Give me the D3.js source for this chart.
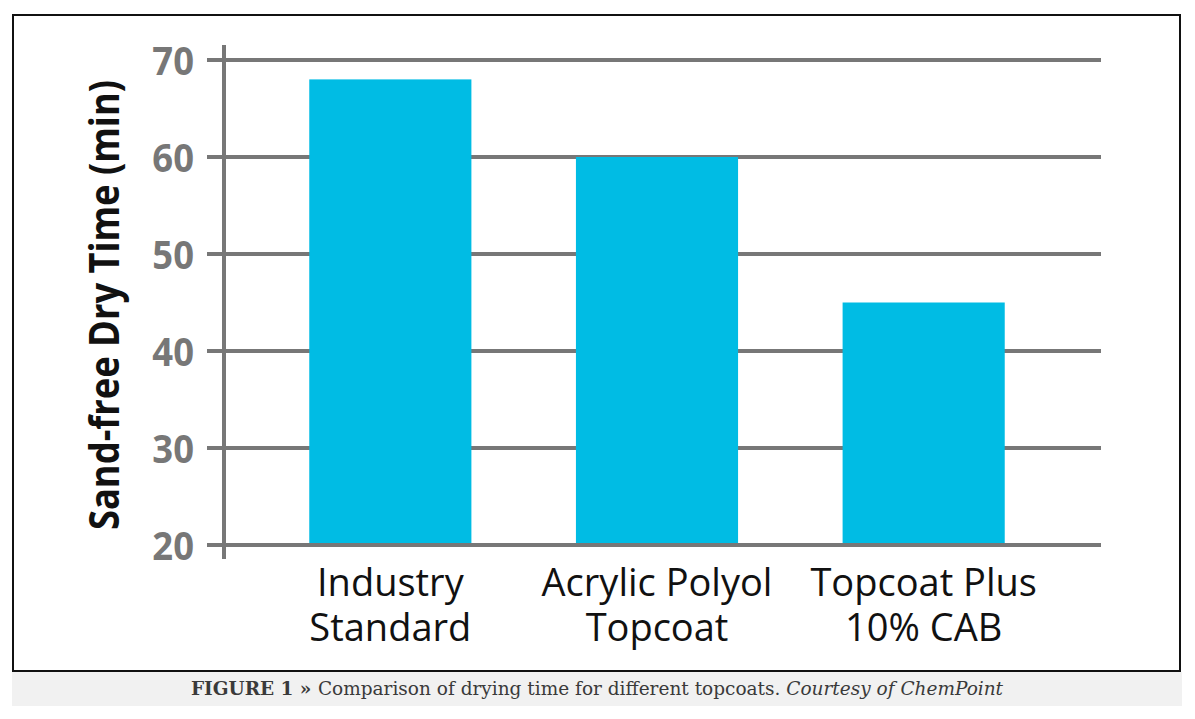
<!DOCTYPE html>
<html>
<head>
<meta charset="utf-8">
<script src="https://cdn.jsdelivr.net/npm/d3@7"></script>
<style>
  html, body { margin: 0; padding: 0; background: #fff; }
  svg { display: block; }
</style>
</head>
<body>
<svg id="chart" width="1195" height="719"></svg>
<script>
const categories = [["Industry", "Standard"], ["Acrylic Polyol", "Topcoat"], ["Topcoat Plus", "10% CAB"]];
const values = [68, 60, 45];
const yTicks = [20, 30, 40, 50, 60, 70];
const yTitle = "Sand-free Dry Time (min)";
const captionParts = [
  { text: "FIGURE 1 » ", weight: "bold", style: "normal" },
  { text: "Comparison of drying time for different topcoats. ", weight: "normal", style: "normal" },
  { text: "Courtesy of ChemPoint", weight: "normal", style: "italic" }
];

const svg = d3.select("#chart");

// caption bar
svg.append("rect").attr("x", 12).attr("y", 672).attr("width", 1170).attr("height", 34).attr("fill", "#f1f1f1");
const cap = svg.append("text").attr("x", 597).attr("y", 695).attr("text-anchor", "middle")
  .attr("font-family", "'DejaVu Serif', 'Liberation Serif', serif").attr("font-size", 18.5).attr("fill", "#3a3a3a");
cap.selectAll("tspan").data(captionParts).join("tspan")
  .attr("font-weight", d => d.weight).attr("font-style", d => d.style).text(d => d.text);

// outer frame
svg.append("rect").attr("x", 13).attr("y", 15).attr("width", 1167).attr("height", 656)
  .attr("fill", "none").attr("stroke", "#111").attr("stroke-width", 2);

const y = d3.scaleLinear().domain([20, 70]).range([545, 60]);
const x = d3.scaleBand().domain(d3.range(categories.length)).range([257, 1057]).paddingInner(0.392).paddingOuter(0.196);

const gridCol = "#777";

// gridlines (right of axis)
svg.append("g").selectAll("line").data(yTicks).join("line")
  .attr("x1", 207).attr("x2", 1101)
  .attr("y1", d => y(d)).attr("y2", d => y(d))
  .attr("stroke", gridCol).attr("stroke-width", 4);

// bars
svg.append("g").selectAll("rect").data(values).join("rect")
  .attr("x", (d, i) => x(i)).attr("width", x.bandwidth())
  .attr("y", d => y(d)).attr("height", d => y(20) - y(d) - 2)
  .attr("fill", "#00bce4");

// y axis line
svg.append("line").attr("x1", 224).attr("x2", 224).attr("y1", 45).attr("y2", 559)
  .attr("stroke", gridCol).attr("stroke-width", 4);

// y axis via d3 (labels)
const yAxis = d3.axisLeft(y).tickValues(yTicks).tickSize(0).tickPadding(0);
const ag = svg.append("g").attr("transform", "translate(194,0)").call(yAxis);
ag.select(".domain").remove();
ag.selectAll("text")
  .attr("font-family", "'Open Sans', sans-serif").attr("font-weight", "bold")
  .attr("font-size", 40).attr("fill", "#777").attr("dy", "0.36em")
  .each(function() {
    const t = d3.select(this);
    const w = this.getComputedTextLength();
    t.attr("textLength", w * 0.91).attr("lengthAdjust", "spacingAndGlyphs");
  });

// y title
svg.append("text").attr("transform", "translate(119,305) rotate(-90)")
  .attr("text-anchor", "middle").attr("font-family", "'Open Sans', sans-serif")
  .attr("font-weight", "bold").attr("font-size", 41).attr("fill", "#111")
  .attr("textLength", 450).attr("lengthAdjust", "spacingAndGlyphs")
  .text(yTitle);

// x labels: one text per category, lines as tspans
const xl = svg.append("g").selectAll("text").data(categories).join("text")
  .attr("transform", (d, i) => `translate(${x(i) + x.bandwidth() / 2},596)`)
  .attr("text-anchor", "middle").attr("font-family", "'Open Sans', sans-serif")
  .attr("font-size", 38).attr("fill", "#111");
xl.selectAll("tspan").data(d => d).join("tspan")
  .attr("x", 0).attr("y", (d, j) => j * 45)
  .text(d => d);
</script>
</body>
</html>
